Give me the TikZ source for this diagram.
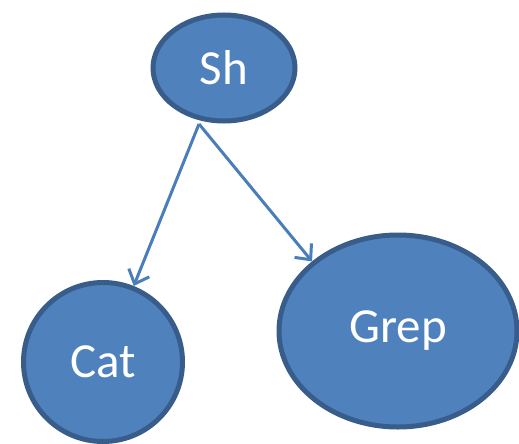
\documentclass[tikz,border=0pt]{standalone}
\usepackage{fontspec}
\setmainfont{Carlito}
\usetikzlibrary{arrows.meta,shapes.geometric}

\definecolor{bubblefill}{HTML}{4F81BD}
\definecolor{bubbleline}{HTML}{385D8A}
\definecolor{linkcol}{HTML}{4A7EBB}

\begin{document}
\begin{tikzpicture}[x=1pt,y=-1pt,
  proc/.style={ellipse, fill=bubblefill, draw=bubbleline, line width=5pt,
    inner sep=0pt, text=white, font=\fontsize{49}{52}\selectfont},
  link/.style={-{Straight Barb[length=12pt,width=22pt,line width=3pt]}, linkcol, line width=3pt}]

\useasboundingbox (0,0) rectangle (519,444);

% the three processes
\node[proc, minimum width=142pt, minimum height=106pt] (sh) at (224,68) {Sh};
\node[proc, minimum width=159pt, minimum height=159pt] (cat) at (103,362) {Cat};
\node[proc, minimum width=238pt, minimum height=192pt] (grep) at (398,331) {Grep};

\coordinate (fork) at (199,124);

\draw[link] (fork) -- (cat.68);
\draw[link] (fork) -- (grep.141);

\end{tikzpicture}
\end{document}
